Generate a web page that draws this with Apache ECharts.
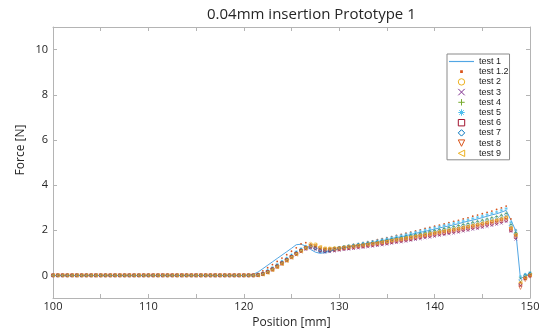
<!DOCTYPE html>
<html><head><meta charset="utf-8">
<script src="https://cdn.jsdelivr.net/npm/echarts@6/dist/echarts.min.js"></script>
<style>html,body{margin:0;padding:0;background:#fff}#c{width:543px;height:329px}</style>
</head><body><div id="c"></div>
<script>
const positions = [100,100.5,101,101.5,102,102.5,103,103.5,104,104.5,105,105.5,106,106.5,107,107.5,108,108.5,109,109.5,110,110.5,111,111.5,112,112.5,113,113.5,114,114.5,115,115.5,116,116.5,117,117.5,118,118.5,119,119.5,120,120.5,
121,121.5,122,122.5,123,123.5,124,124.5,125,125.5,126,126.5,127,127.5,128,128.5,129,129.5,
130,130.5,131,131.5,132,132.5,133,133.5,134,134.5,135,135.5,136,136.5,137,137.5,138,138.5,139,139.5,140,140.5,141,141.5,142,142.5,143,143.5,144,144.5,145,145.5,146,146.5,147,147.5,
148,148.5,149,149.5,150];
const xTickLabels = [100,110,120,130,140,150];
const yTickValues = [0,2,4,6,8,10];
const seriesNames = ['test 1','test 1.2','test 2','test 3','test 4','test 5','test 6','test 7','test 8','test 9'];

const test1 = [0,0,0,0,0,0,0,0,0,0, 0,0,0,0,0,0,0,0,0,0, 0,0,0,0,0,0,0,0,0,0, 0,0,0,0,0,0,0,0,0,0, 0,0.02,
0.05,0.15,0.30,0.45,0.60,0.75,0.90,1.05,1.20,1.36,1.38,1.30,1.15,1.03,0.98,1.01,1.07,1.13,
1.19,1.23,1.27,1.30,1.34,1.38,1.42,1.46,1.49,1.54,1.58,1.63,1.68,1.71,1.76,1.81,1.86,1.91,1.95,2.00,2.05,2.10,2.15,2.19,2.24,2.29,2.35,2.40,2.45,2.50,2.56,2.62,2.68,2.73,2.80,2.88,
2.45,1.98,-0.15,-0.02,0.08];
const test1_2 = [0,0,0,0,0,0,0,0,0,0, 0,0,0,0,0,0,0,0,0,0, 0,0,0,0,0,0,0,0,0,0, 0,0,0,0,0,0,0,0,0,0, 0,0,
0.02,0.08,0.20,0.34,0.48,0.62,0.77,0.92,1.07,1.22,1.40,1.45,1.38,1.25,1.17,1.17,1.19,1.22,
1.24,1.28,1.32,1.37,1.41,1.45,1.49,1.53,1.58,1.63,1.67,1.72,1.77,1.82,1.87,1.92,1.97,2.02,2.08,2.13,2.18,2.23,2.28,2.34,2.39,2.44,2.50,2.55,2.62,2.67,2.73,2.79,2.85,2.92,2.99,3.07,
2.50,2.00,-0.30,-0.10,0.05];
const test2 = [0,0,0,0,0,0,0,0,0,0, 0,0,0,0,0,0,0,0,0,0, 0,0,0,0,0,0,0,0,0,0, 0,0,0,0,0,0,0,0,0,0, 0,0,
0,0.01,0.05,0.13,0.25,0.38,0.52,0.66,0.80,0.95,1.10,1.25,1.40,1.38,1.25,1.20,1.20,1.21,
1.22,1.25,1.28,1.30,1.33,1.36,1.39,1.42,1.44,1.48,1.51,1.55,1.59,1.61,1.65,1.69,1.73,1.77,1.80,1.84,1.88,1.92,1.96,1.99,2.03,2.07,2.12,2.16,2.20,2.24,2.29,2.34,2.39,2.43,2.49,2.56,
2.10,1.80,-0.35,-0.08,0.04];
const test3 = [0,0,0,0,0,0,0,0,0,0, 0,0,0,0,0,0,0,0,0,0, 0,0,0,0,0,0,0,0,0,0, 0,0,0,0,0,0,0,0,0,0, 0,0,
0,0,0.04,0.12,0.23,0.36,0.49,0.63,0.77,0.91,1.04,1.15,1.22,1.15,1.05,1.03,1.05,1.08,
1.11,1.14,1.16,1.19,1.21,1.24,1.27,1.29,1.32,1.35,1.38,1.42,1.45,1.48,1.51,1.55,1.59,1.62,1.66,1.69,1.73,1.77,1.80,1.84,1.87,1.91,1.96,1.99,2.04,2.07,2.12,2.17,2.21,2.26,2.31,2.38,
1.95,1.60,-0.45,-0.15,-0.02];
const test4 = [0,0,0,0,0,0,0,0,0,0, 0,0,0,0,0,0,0,0,0,0, 0,0,0,0,0,0,0,0,0,0, 0,0,0,0,0,0,0,0,0,0, 0,0,
0,0.02,0.08,0.18,0.30,0.44,0.58,0.72,0.86,1.00,1.13,1.25,1.33,1.30,1.20,1.17,1.18,1.21,
1.23,1.26,1.30,1.33,1.36,1.40,1.43,1.46,1.49,1.54,1.57,1.61,1.66,1.69,1.73,1.78,1.82,1.86,1.90,1.95,1.99,2.03,2.08,2.12,2.16,2.21,2.26,2.30,2.35,2.40,2.45,2.50,2.56,2.61,2.67,2.75,
2.25,1.90,-0.10,0.02,0.10];
const test5 = [0,0,0,0,0,0,0,0,0,0, 0,0,0,0,0,0,0,0,0,0, 0,0,0,0,0,0,0,0,0,0, 0,0,0,0,0,0,0,0,0,0, 0,0,
0.01,0.04,0.11,0.22,0.35,0.49,0.63,0.77,0.91,1.05,1.18,1.29,1.32,1.24,1.13,1.12,1.15,1.19,
1.23,1.27,1.31,1.35,1.39,1.43,1.46,1.50,1.54,1.59,1.63,1.68,1.73,1.77,1.82,1.87,1.91,1.96,2.01,2.06,2.11,2.16,2.21,2.26,2.31,2.36,2.41,2.46,2.52,2.57,2.63,2.69,2.75,2.81,2.88,2.96,
2.35,2.00,-0.05,0.05,0.12];
const test6 = [0,0,0,0,0,0,0,0,0,0, 0,0,0,0,0,0,0,0,0,0, 0,0,0,0,0,0,0,0,0,0, 0,0,0,0,0,0,0,0,0,0, 0,0,
0,0.01,0.06,0.15,0.27,0.40,0.54,0.68,0.82,0.96,1.09,1.20,1.27,1.22,1.12,1.10,1.11,1.13,
1.16,1.19,1.21,1.24,1.27,1.29,1.32,1.35,1.38,1.41,1.44,1.48,1.51,1.54,1.58,1.61,1.65,1.69,1.73,1.76,1.80,1.84,1.87,1.91,1.95,1.98,2.03,2.07,2.12,2.15,2.20,2.25,2.29,2.34,2.40,2.46,
2.00,1.70,-0.40,-0.12,0.00];
const test7 = [0,0,0,0,0,0,0,0,0,0, 0,0,0,0,0,0,0,0,0,0, 0,0,0,0,0,0,0,0,0,0, 0,0,0,0,0,0,0,0,0,0, 0,0,
0,0.02,0.07,0.17,0.29,0.43,0.57,0.71,0.85,0.99,1.12,1.23,1.28,1.19,1.07,1.05,1.09,1.15,
1.21,1.24,1.27,1.31,1.34,1.37,1.40,1.43,1.47,1.51,1.54,1.58,1.62,1.66,1.70,1.74,1.78,1.82,1.87,1.91,1.95,1.99,2.03,2.08,2.12,2.16,2.21,2.25,2.31,2.35,2.40,2.45,2.50,2.56,2.62,2.69,
2.20,1.85,-0.20,0.00,0.08];
const test8 = [0,0,0,0,0,0,0,0,0,0, 0,0,0,0,0,0,0,0,0,0, 0,0,0,0,0,0,0,0,0,0, 0,0,0,0,0,0,0,0,0,0, 0,0,
0,0.01,0.05,0.14,0.26,0.39,0.53,0.67,0.81,0.95,1.08,1.21,1.30,1.29,1.19,1.14,1.14,1.16,
1.18,1.21,1.24,1.26,1.29,1.32,1.35,1.38,1.40,1.44,1.47,1.51,1.55,1.57,1.61,1.65,1.69,1.73,1.76,1.80,1.84,1.88,1.92,1.95,1.99,2.03,2.08,2.12,2.16,2.20,2.25,2.30,2.35,2.39,2.45,2.52,
2.05,1.75,-0.55,-0.20,-0.05];
const test9 = [0,0,0,0,0,0,0,0,0,0, 0,0,0,0,0,0,0,0,0,0, 0,0,0,0,0,0,0,0,0,0, 0,0,0,0,0,0,0,0,0,0, 0,0,
0,0,0.04,0.12,0.24,0.37,0.51,0.65,0.79,0.93,1.07,1.21,1.34,1.36,1.26,1.19,1.18,1.19,
1.21,1.24,1.27,1.30,1.33,1.35,1.38,1.41,1.44,1.48,1.51,1.55,1.59,1.62,1.66,1.69,1.73,1.77,1.81,1.85,1.89,1.93,1.97,2.01,2.05,2.08,2.13,2.17,2.22,2.26,2.31,2.36,2.41,2.46,2.52,2.58,
2.10,1.80,-0.30,-0.10,0.03];

const seriesValues = [test1, test1_2, test2, test3, test4, test5, test6, test7, test8, test9];

const FONT = 'Open Sans';
const AX = '#b4b4b4';
const TXT = '#262626';
const markers = [
  {line:true, color:'#52A6E4'},
  {symbol:'circle', size:1.8, color:'#D95319', fill:true},
  {symbol:'circle', size:3, color:'#EDB120'},
  {symbol:'path://M0,0L10,10M10,0L0,10', size:2.8, color:'#7E2F8E'},
  {symbol:'path://M5,0L5,10M0,5L10,5', size:3.2, color:'#77AC30'},
  {symbol:'path://M5,0L5,10M0,5L10,5M1.5,1.5L8.5,8.5M8.5,1.5L1.5,8.5', size:3.2, color:'#4DBEEE'},
  {symbol:'rect', size:2.8, color:'#A2142F'},
  {symbol:'diamond', size:3.4, color:'#0072BD'},
  {symbol:'path://M0,0L10,0L5,9Z', size:3.2, color:'#D95319'},
  {symbol:'path://M9,0L9,10L0,5Z', size:3.2, color:'#EDB120'}
];

const series = seriesNames.map((name, k) => {
  const m = markers[k];
  const data = positions.map((x, i) => [x, seriesValues[k][i]]);
  if (m.line) {
    return {name, type:'line', data, symbol:'none', lineStyle:{color:m.color, width:1}, itemStyle:{color:m.color}, z:2};
  }
  return {
    name, type:'line', data, symbol:m.symbol, symbolSize:m.size, showSymbol:true,
    lineStyle:{width:0, opacity:0},
    itemStyle: m.fill ? {color:m.color} : {color:'rgba(255,255,255,0)', borderColor:m.color, borderWidth:0.6},
    z:3
  };
});

const legendData = seriesNames.map((name, k) => {
  if (k === 0) return {name, icon:'path://M0,0L30,0L30,1.4L0,1.4Z', itemStyle:{color:markers[0].color}};
  if (k === 1) return {name, icon:'path://M0,0L0.01,0M10,10L9.99,10M3.3,3.3L6.7,3.3L6.7,6.7L3.3,6.7Z', itemStyle:{color:markers[1].color}};
  return {name, itemStyle:{borderWidth:1}};
});

const chart = echarts.init(document.getElementById('c'), null, {renderer:'canvas'});
chart.setOption({
  animation:false,
  backgroundColor:'#fff',
  title:{text:'0.04mm insertion Prototype 1', left:202, top:2, textStyle:{fontSize:15, fontWeight:'normal', color:TXT, fontFamily:FONT}},
  grid:{left:53, right:13, top:27, bottom:31, containLabel:false, outerBoundsMode:'none'},
  legend:{
    data:legendData, orient:'vertical', left:447, top:54,
    itemWidth:25, itemHeight:8, itemGap:1.2,
    padding:[3,1,2,2], borderColor:'#8a8a8a', borderWidth:1, backgroundColor:'#fff',
    itemStyle:{borderWidth:1},
    textStyle:{fontSize:9, lineHeight:9, color:'#222', fontFamily:'Liberation Sans'}
  },
  graphic:[
    {type:'text', x:20.5, y:150, rotation:Math.PI/2,
     style:{text:'Force [N]', align:'center', verticalAlign:'middle', fill:TXT, font:'12px "Open Sans"'}}
  ],
  xAxis:[
    {type:'value', min:100, max:150, interval:5, position:'bottom',
     axisLine:{onZero:false, lineStyle:{color:AX}},
     axisTick:{inside:true, length:4, lineStyle:{color:AX}},
     axisLabel:{margin:3, color:TXT, fontSize:11, fontFamily:FONT, formatter:v => xTickLabels.includes(v) ? String(v) : ''},
     splitLine:{show:false},
     name:'Position [mm]', nameLocation:'middle', nameGap:13,
     nameTextStyle:{fontSize:12, color:TXT, fontFamily:FONT}},
    {type:'value', min:100, max:150, interval:5, position:'top',
     axisLine:{onZero:false, lineStyle:{color:AX}},
     axisTick:{inside:true, length:4, lineStyle:{color:AX}},
     axisLabel:{show:false}, splitLine:{show:false}}
  ],
  yAxis:[
    {type:'value', min:-1, max:11, position:'left',
     axisLine:{show:true, onZero:false, lineStyle:{color:AX}},
     axisTick:{show:true, inside:true, length:4, lineStyle:{color:AX}, customValues:yTickValues},
     axisLabel:{margin:5, color:TXT, fontSize:11, fontFamily:FONT, customValues:yTickValues},
     splitLine:{show:false}},
    {type:'value', min:-1, max:11, position:'right',
     axisLine:{show:true, onZero:false, lineStyle:{color:AX}},
     axisTick:{show:true, inside:true, length:4, lineStyle:{color:AX}, customValues:yTickValues},
     axisLabel:{show:false}, splitLine:{show:false}}
  ],
  series
});
</script></body></html>
